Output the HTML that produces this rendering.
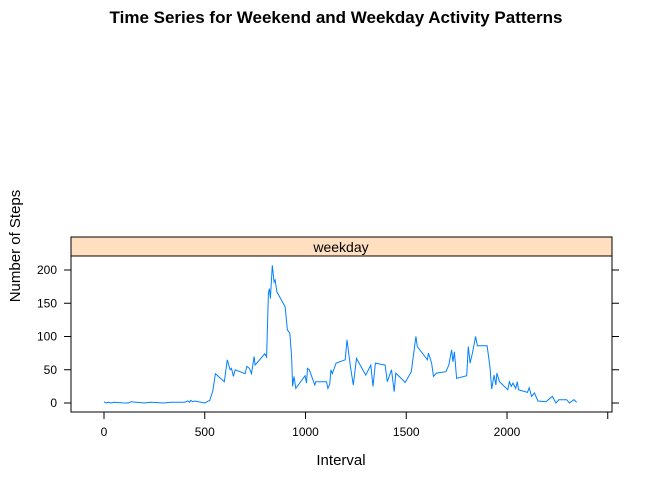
<!DOCTYPE html>
<html><head><meta charset="utf-8"><style>
body{margin:0;background:#fff;font-family:"Liberation Sans",Arial,sans-serif}
</style></head><body>
<svg width="672" height="480" viewBox="0 0 672 480" style="display:block">
<text x="336" y="23" text-anchor="middle" font-size="17" font-weight="bold">Time Series for Weekend and Weekday Activity Patterns</text>
<rect x="71" y="237" width="541" height="19" fill="#ffdfbf" stroke="#000" stroke-width="1"/>
<text x="341" y="252" text-anchor="middle" font-size="14">weekday</text>
<rect x="71" y="256" width="541" height="156" fill="none" stroke="#000" stroke-width="1"/>
<g id="axes"></g>
<path id="line" fill="none" stroke="#0080ff" stroke-width="1"/>
<text x="341" y="465" text-anchor="middle" font-size="15">Interval</text>
<text transform="translate(20,246) rotate(-90)" text-anchor="middle" font-size="15">Number of Steps</text>
</svg>
<script>
const intervals=[0,10,20,35,50,100,120,135,200,230,300,330,400,415,425,430,440,450,500,525,540,553,597,612,626,633,642,651,700,709,722,732,745,750,798,807,816,821,826,835,844,849,858,899,910,922,931,936,943,952,998,1005,1010,1019,1046,1051,1104,1111,1120,1126,1133,1152,1197,1206,1223,1237,1253,1299,1324,1335,1347,1395,1406,1427,1440,1448,1495,1525,1548,1555,1605,1610,1626,1635,1649,1697,1711,1725,1732,1739,1750,1800,1808,1817,1830,1844,1853,1901,1915,1924,1936,1945,1950,1963,2004,2012,2021,2030,2043,2051,2057,2101,2110,2122,2136,2154,2193,2225,2243,2257,2296,2310,2332,2346];
const steps=[2,0,1,0,1,0,0,2,0,1,0,1,1,3,1,4,2,3,0,4,18,44,32,65,50,52,40,50,44,55,52,44,70,57,74,69,165,172,157,207,182,185,167,145,110,105,70,25,40,22,41,30,52,50,27,32,32,22,28,50,44,60,65,95,55,27,67,42,57,25,60,57,32,50,17,45,31,47,100,85,65,75,60,40,45,47,57,80,62,77,37,41,85,60,77,100,86,86,55,21,42,27,45,32,20,32,25,30,22,32,20,16,23,10,15,3,2,10,0,5,5,0,5,1];
const xTicks=[0,500,1000,1500,2000,2500];
const yTicks=[0,50,100,150,200];
const xs=v=>104+v*0.2015;
const ys=v=>403-v*0.665;
const ns="http://www.w3.org/2000/svg";
const g=document.getElementById('axes');
function mk(t,a){const e=document.createElementNS(ns,t);for(const k in a)e.setAttribute(k,a[k]);g.appendChild(e);return e;}
yTicks.forEach(v=>{
 const l=mk('line',{x1:64,x2:71,y1:ys(v),y2:ys(v),stroke:'#000'});
 
 
 const r=mk('line',{x1:612,x2:619,y1:ys(v),y2:ys(v),stroke:'#000'});
 
 
 const t=mk('text',{x:57,y:ys(v)+4,'text-anchor':'end','font-size':12});
 t.textContent=v;
 
 
});
xTicks.forEach(v=>{
 const l=mk('line',{x1:xs(v),x2:xs(v),y1:412,y2:419,stroke:'#000'});
 
 
 if(v<2500){
 const t=mk('text',{x:xs(v),y:436,'text-anchor':'middle','font-size':12});
 t.textContent=v;
 
 }
});
document.getElementById('line').setAttribute('d',intervals.map((v,i)=>(i?'L':'M')+xs(v).toFixed(1)+','+ys(steps[i]).toFixed(1)).join(''));
</script>
</body></html>
